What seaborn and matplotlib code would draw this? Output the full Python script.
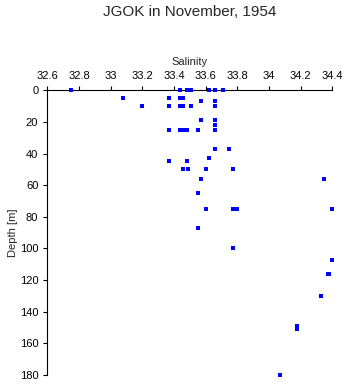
import matplotlib
matplotlib.use("Agg")
import matplotlib.pyplot as plt
import seaborn as sns
import pandas as pd

# Salinity / depth profile samples
salinity = [
    32.75, 33.44, 33.48, 33.51, 33.62, 33.66, 33.71,
    33.08, 33.37, 33.44, 33.46,
    33.57, 33.66,
    33.20, 33.37, 33.44, 33.46, 33.51, 33.66,
    33.57, 33.66,
    33.66,
    33.37, 33.44, 33.46, 33.48, 33.55, 33.66,
    33.66, 33.75,
    33.62,
    33.37, 33.48,
    33.46, 33.49, 33.60, 33.77,
    33.57, 34.35,
    33.55,
    33.60, 33.77, 33.80, 34.40,
    33.55,
    33.77,
    34.40,
    34.37, 34.38,
    34.33,
    34.18, 34.18,
    34.07,
]
depth = [
    0, 0, 0, 0, 0, 0, 0,
    5, 5, 5, 5,
    7, 7,
    10, 10, 10, 10, 10, 10,
    19, 19,
    22,
    25, 25, 25, 25, 25, 25,
    37, 37,
    43,
    45, 45,
    50, 50, 50, 50,
    56, 56,
    65,
    75, 75, 75, 75,
    87,
    100,
    107,
    116, 116,
    130,
    149, 151,
    180,
]
x_ticks = [32.6, 32.8, 33.0, 33.2, 33.4, 33.6, 33.8, 34.0, 34.2, 34.4]
x_tick_labels = ["32.6", "32.8", "33", "33.2", "33.4", "33.6", "33.8", "34", "34.2", "34.4"]
y_ticks = [0, 20, 40, 60, 80, 100, 120, 140, 160, 180]

df = pd.DataFrame({"Salinity": salinity, "Depth": depth})

sns.set_style("white")
plt.rcParams["font.family"] = ["Liberation Sans", "DejaVu Sans"]

fig = plt.figure(figsize=(3.46, 3.84), dpi=100)
ax = fig.add_axes([0.1367, 0.0234, 0.8237, 0.7414])

sns.scatterplot(data=df, x="Salinity", y="Depth", ax=ax, marker="s", s=5,
                color="#0000ff", linewidth=0, clip_on=False, zorder=3,
                antialiased=False)

ax.set_xlim(32.6, 34.4)
ax.set_ylim(180, 0)
ax.set_xticks(x_ticks)
ax.set_xticklabels(x_tick_labels)
ax.set_yticks(y_ticks)

ax.xaxis.set_label_position("top")
ax.xaxis.tick_top()
ax.set_xlabel("Salinity", fontsize=8, labelpad=4)
ax.set_ylabel("Depth [m]", fontsize=8, labelpad=1)

for side in ["right", "bottom"]:
    ax.spines[side].set_visible(False)
for side in ["left", "top"]:
    ax.spines[side].set_color("black")
    ax.spines[side].set_linewidth(0.8)

ax.tick_params(axis="x", which="both", top=True, bottom=False, direction="out",
               length=3, width=0.8, pad=4, labelsize=8, colors="black")
ax.tick_params(axis="y", which="both", left=True, direction="out",
               length=3, width=0.8, pad=3.5, labelsize=8, colors="black")
ax.grid(False)

fig.suptitle("JGOK in November, 1954", x=0.549, y=0.988, va="top", fontsize=11)

fig.savefig("out.png", dpi=100)
